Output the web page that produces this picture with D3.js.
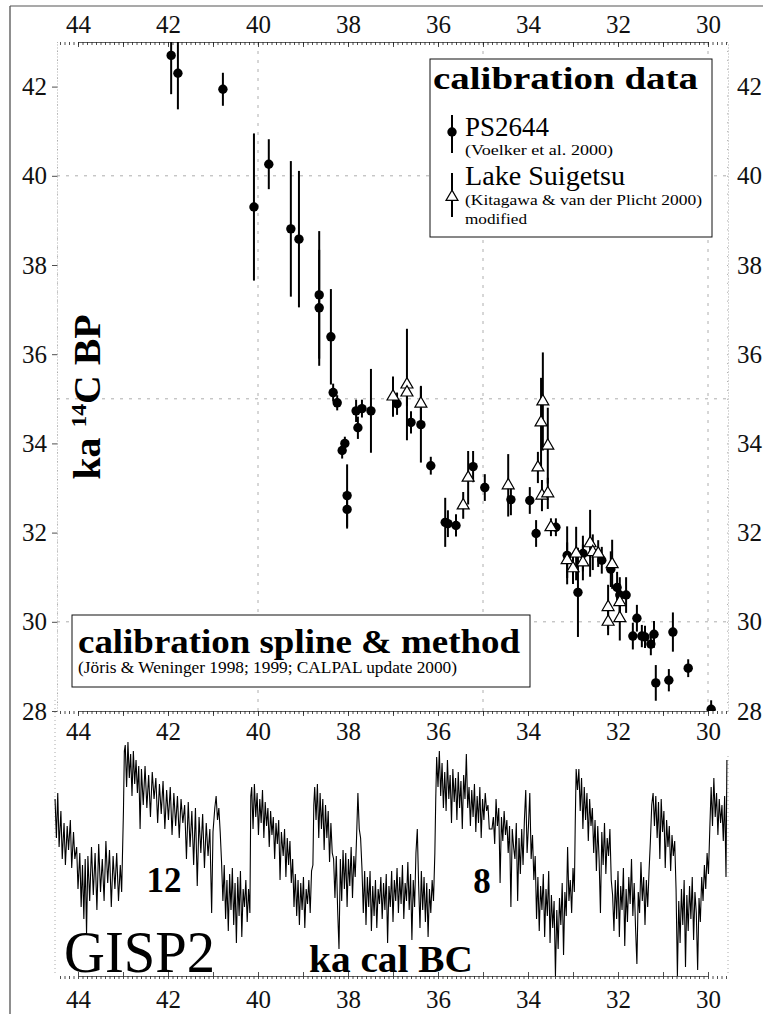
<!DOCTYPE html>
<meta charset="utf-8">
<style>
body { margin: 0; background: #fff; }
svg { font-family: "Liberation Serif", "Times New Roman", serif; }
.lbl text { font-family: "Liberation Serif", "Times New Roman", serif; font-size: 25px; fill: #111; }
.lbl path, .lbl line { display: none; }
.tk path { stroke: #333; stroke-width: 0.8px; }
.tk line { stroke: #222; stroke-width: 0.8px; }
.faint path, .faint line { stroke: #999; stroke-width: 0.8px; stroke-dasharray: 1,2; }
.grid { stroke: #999; stroke-width: 0.8px; stroke-dasharray: 3,6; fill: none; }
.bar { stroke: #000; stroke-width: 2px; }
.gisp { fill: none; stroke: #000; stroke-width: 1.1px; stroke-linejoin: miter; }
</style>
<svg width="763" height="1014" id="chart"></svg>
<script src="https://cdn.jsdelivr.net/npm/d3@7/dist/d3.min.js"></script>
<script>

// tick labels
var xLabels = [44, 42, 40, 38, 36, 34, 32, 30],
    yLabels = [28, 30, 32, 34, 36, 38, 40, 42],
    xGrid = [40, 35, 30],
    yGrid = [30, 35, 40];

// PS2644: cal age (ka), 14C age (ka BP), 1 sigma (ka)
var psAge = [41.93, 41.78, 40.78, 40.09, 39.76, 39.27, 39.09, 38.64, 38.64, 38.38,
             38.33, 38.24, 38.13, 38.07, 38.02, 38.02, 37.82, 37.78, 37.69, 37.49,
             36.91, 36.60, 36.38, 36.16, 35.84, 35.78, 35.60, 35.22, 34.96, 34.38,
             33.96, 33.82, 33.38, 33.13, 32.89, 32.78, 32.36, 32.16, 32.02, 31.96,
             31.82, 31.67, 31.58, 31.47, 31.40, 31.27, 31.20, 31.16, 30.87, 30.78,
             30.44, 29.93];
var psC14 = [42.70, 42.30, 41.94, 39.30, 40.26, 38.81, 38.58, 37.33, 37.04, 36.39,
             35.14, 34.91, 33.84, 34.00, 32.83, 32.52, 34.73, 34.35, 34.78, 34.73,
             34.89, 34.47, 34.42, 33.50, 32.23, 32.20, 32.16, 33.48, 33.01, 32.74,
             32.72, 31.98, 32.12, 31.49, 30.66, 31.53, 31.38, 31.18, 30.77, 30.60,
             30.60, 29.68, 30.08, 29.68, 29.66, 29.50, 29.72, 28.63, 28.69, 29.77,
             28.96, 28.04];
var psErr = [0.87, 0.81, 0.37, 1.65, 0.56, 1.52, 1.53, 1.43, 1.30, 1.07,
             0.20, 0.17, 0.18, 0.15, 0.70, 0.43, 0.25, 0.25, 0.20, 0.94,
             0.25, 0.25, 0.85, 0.20, 0.55, 0.30, 0.25, 0.35, 0.30, 0.35,
             0.30, 0.30, 0.20, 0.65, 1.00, 0.40, 0.30, 0.40, 0.35, 0.40,
             0.40, 0.30, 0.30, 0.25, 0.25, 0.25, 0.30, 0.40, 0.25, 0.44,
             0.20, 0.20];

// Lake Suigetsu (modified)
var lsAge = [37.00, 36.69, 36.69, 36.38, 35.44, 35.33, 34.44, 33.67, 33.71, 33.78,
             33.69, 33.56, 33.56, 33.49, 33.13, 33.00, 32.93, 32.78, 32.62, 32.56,
             32.44, 32.13, 32.22, 32.22, 31.96, 31.96];
var lsC14 = [35.05, 35.32, 35.14, 34.89, 32.61, 33.23, 33.06, 34.94, 34.47, 33.46,
             32.83, 33.95, 32.88, 32.12, 31.38, 31.20, 31.53, 31.33, 31.76, 31.56,
             31.53, 31.29, 30.33, 30.00, 30.44, 30.08];
var lsErr = [0.45, 1.25, 0.30, 0.40, 0.30, 0.60, 0.70, 1.10, 1.00, 0.35,
             0.35, 0.85, 0.35, 0.20, 0.40, 0.35, 0.60, 0.40, 0.75, 0.40,
             0.30, 0.55, 0.50, 0.30, 0.40, 0.50];

// GISP2 d18O (permil) against cal age (ka)
var gisp2 = [
 [44.51,-37.6],[44.48,-38.9],[44.45,-37.4],[44.42,-39.2],[44.38,-38.0],[44.35,-39.6],[44.31,-38.4],[44.28,-39.8],
 [44.24,-38.5],[44.21,-39.3],[44.17,-38.3],[44.14,-39.9],[44.10,-38.7],[44.07,-39.6],[44.03,-39.2],[44.00,-40.6],
 [43.96,-39.4],[43.93,-41.2],[43.90,-39.8],[43.87,-41.6],[43.84,-39.6],[43.81,-42.1],[43.78,-39.5],[43.74,-41.0],
 [43.70,-39.2],[43.66,-40.8],[43.62,-39.4],[43.58,-41.3],[43.54,-39.1],[43.50,-40.7],[43.46,-39.6],[43.42,-41.0],
 [43.38,-39.0],[43.34,-40.4],[43.30,-39.3],[43.26,-41.2],[43.22,-39.5],[43.18,-40.6],[43.14,-39.4],[43.10,-41.0],
 [43.06,-39.8],[43.03,-40.7],[42.99,-38.0],[42.97,-36.0],
 [42.95,-35.8],[42.92,-37.2],[42.89,-35.7],[42.86,-36.9],[42.83,-36.1],[42.80,-37.5],[42.77,-36.0],[42.74,-37.1],
 [42.71,-36.3],[42.68,-37.4],[42.65,-36.5],[42.62,-38.6],[42.59,-36.6],[42.55,-37.8],[42.51,-36.5],[42.47,-37.9],
 [42.43,-36.8],[42.39,-38.2],[42.35,-36.7],[42.31,-37.6],[42.27,-36.9],[42.23,-38.4],[42.19,-37.1],[42.15,-38.1],
 [42.11,-37.0],[42.07,-38.6],[42.03,-37.3],[41.99,-38.3],[41.95,-37.2],[41.91,-38.8],[41.87,-37.4],[41.83,-38.5],
 [41.79,-37.5],[41.75,-38.9],[41.71,-37.6],[41.67,-38.4],[41.63,-37.8],[41.59,-39.6],[41.55,-37.7],[41.51,-39.2],
 [41.47,-38.0],[41.43,-39.8],[41.39,-37.9],[41.35,-40.5],[41.31,-38.2],[41.27,-39.4],[41.23,-38.1],[41.19,-39.9],
 [41.15,-38.4],[41.11,-39.5],[41.07,-38.6],[41.03,-41.4],[41.00,-38.7],[40.96,-37.9],[40.93,-37.5],[40.90,-38.3],
 [40.87,-37.9],[40.84,-38.7],[40.81,-39.7],[40.78,-41.0],[40.75,-39.8],[40.72,-41.6],[40.69,-40.3],[40.66,-42.0],
 [40.63,-40.1],[40.60,-41.3],[40.57,-39.9],[40.54,-41.8],[40.51,-40.4],[40.48,-42.4],[40.45,-40.2],[40.42,-41.5],
 [40.39,-40.0],[40.36,-42.2],[40.33,-40.6],[40.30,-41.2],[40.27,-40.3],[40.24,-41.7],[40.21,-40.6],[40.18,-41.4],
 [40.16,-37.5],[40.14,-37.2],
 [40.11,-38.6],[40.08,-37.1],[40.05,-38.2],[40.02,-37.4],[39.99,-38.8],[39.96,-37.6],[39.93,-38.4],[39.90,-37.3],
 [39.87,-38.9],[39.84,-37.7],[39.81,-38.5],[39.78,-37.9],[39.75,-39.2],[39.72,-38.0],[39.69,-38.8],[39.66,-38.2],
 [39.63,-39.6],[39.60,-38.4],[39.57,-39.1],[39.54,-38.3],[39.51,-40.3],[39.48,-38.7],[39.44,-39.5],[39.41,-38.6],
 [39.38,-40.2],[39.35,-38.9],[39.32,-39.8],[39.29,-39.0],[39.26,-40.4],[39.23,-39.6],[39.20,-41.2],[39.17,-40.1],
 [39.14,-41.5],[39.11,-40.3],[39.08,-41.8],[39.05,-40.4],[39.02,-41.3],[38.99,-40.2],[38.96,-41.9],[38.93,-40.6],
 [38.90,-41.1],[38.87,-40.3],[38.84,-41.4],[38.81,-40.0],[38.78,-39.8],[38.76,-37.8],[38.74,-37.2],
 [38.71,-38.3],[38.68,-37.1],[38.65,-38.9],[38.62,-37.4],[38.59,-38.6],[38.56,-37.6],[38.53,-39.3],[38.50,-37.8],
 [38.47,-38.9],[38.44,-38.0],[38.41,-39.7],[38.38,-38.4],[38.35,-39.4],[38.32,-39.6],[38.29,-40.9],[38.26,-39.5],
 [38.23,-41.3],[38.20,-42.6],[38.17,-39.6],[38.14,-41.0],[38.11,-39.3],[38.08,-40.6],[38.05,-39.4],[38.02,-41.2],
 [37.99,-39.6],[37.96,-40.5],[37.93,-39.2],[37.90,-40.9],[37.87,-39.5],[37.84,-40.2],[37.81,-38.9],[37.78,-37.4],
 [37.75,-38.6],[37.72,-38.9],[37.69,-39.9],[37.66,-41.4],[37.63,-40.0],[37.60,-41.8],[37.57,-40.2],[37.54,-41.2],
 [37.51,-40.0],[37.48,-42.0],[37.45,-40.5],[37.42,-41.5],[37.39,-40.3],[37.36,-41.9],[37.33,-40.6],[37.30,-41.1],
 [37.27,-40.2],[37.24,-41.6],[37.21,-40.4],[37.18,-41.3],[37.15,-40.1],[37.12,-42.4],[37.09,-40.5],[37.06,-41.2],
 [37.03,-40.0],[37.00,-41.7],[36.97,-40.3],[36.94,-41.0],[36.91,-39.9],[36.88,-41.4],[36.85,-40.2],[36.82,-41.1],
 [36.79,-39.8],[36.76,-41.6],[36.73,-40.4],[36.70,-41.0],[36.67,-39.7],[36.64,-41.3],[36.61,-40.1],[36.58,-42.3],
 [36.55,-40.3],[36.52,-41.2],[36.49,-39.4],[36.46,-38.6],[36.43,-40.5],[36.40,-41.9],[36.37,-40.0],[36.34,-41.3],
 [36.31,-40.2],[36.28,-41.7],[36.25,-40.4],[36.22,-42.2],[36.19,-40.6],[36.16,-41.4],[36.13,-40.3],[36.10,-41.0],
 [36.07,-39.4],[36.05,-37.6],[36.03,-36.2],
 [36.00,-37.2],[35.97,-36.0],[35.94,-37.5],[35.91,-36.4],[35.88,-37.9],[35.85,-36.7],[35.82,-38.0],[35.79,-36.3],
 [35.76,-37.6],[35.73,-36.8],[35.70,-38.4],[35.67,-36.6],[35.64,-37.7],[35.61,-36.9],[35.58,-38.3],[35.55,-36.7],
 [35.52,-37.9],[35.49,-37.0],[35.46,-38.6],[35.43,-36.8],[35.40,-37.6],[35.37,-36.1],[35.34,-37.9],[35.31,-37.2],
 [35.28,-38.5],[35.25,-37.3],[35.22,-38.2],[35.19,-37.1],[35.16,-38.7],[35.13,-37.5],[35.10,-38.4],[35.07,-37.2],
 [35.04,-38.9],[35.01,-37.6],[34.98,-38.3],[34.95,-37.4],[34.92,-38.0],[34.89,-37.8],[34.86,-38.6],[34.83,-38.6],
 [34.80,-38.6],[34.77,-38.2],[34.74,-39.1],[34.71,-37.6],[34.68,-38.5],[34.65,-37.9],[34.62,-40.4],[34.59,-38.2],
 [34.56,-39.0],[34.53,-38.0],[34.50,-38.8],[34.47,-38.3],[34.44,-39.4],[34.41,-38.5],[34.38,-41.2],[34.35,-38.6],
 [34.32,-39.2],[34.29,-39.6],[34.26,-38.4],[34.23,-41.0],[34.20,-38.9],[34.17,-40.1],[34.14,-38.6],[34.11,-39.8],
 [34.08,-38.3],[34.05,-37.3],[34.02,-39.4],[33.99,-38.5],[33.96,-37.4],[33.93,-39.6],[33.90,-38.8],[33.87,-40.3],
 [33.84,-39.5],[33.81,-41.6],[33.78,-40.2],[33.75,-42.0],[33.72,-40.5],[33.69,-41.3],[33.66,-40.1],[33.63,-42.2],
 [33.60,-40.6],[33.57,-41.5],[33.54,-40.0],[33.51,-42.4],[33.48,-40.8],[33.45,-41.9],[33.42,-41.0],[33.39,-43.5],
 [33.36,-41.3],[33.33,-42.6],[33.30,-40.9],[33.27,-41.8],[33.24,-40.4],[33.21,-42.8],[33.18,-40.7],[33.15,-41.5],
 [33.12,-39.2],[33.09,-41.0],[33.06,-40.3],[33.03,-41.4],[33.00,-39.9],[32.97,-40.7],[32.95,-38.4],[32.93,-36.6],
 [32.90,-37.3],[32.87,-36.6],[32.84,-38.0],[32.81,-36.9],[32.78,-38.6],[32.75,-37.2],[32.72,-38.3],[32.69,-37.4],
 [32.66,-39.0],[32.63,-37.6],[32.60,-38.5],[32.57,-37.9],[32.54,-39.4],[32.51,-38.3],[32.48,-40.0],[32.45,-38.5],
 [32.42,-39.6],[32.39,-41.4],[32.36,-38.7],[32.33,-39.8],[32.30,-38.4],[32.27,-40.1],[32.24,-38.9],[32.21,-39.5],
 [32.18,-38.6],[32.15,-40.3],[32.12,-40.8],[32.09,-42.0],[32.06,-40.3],[32.03,-41.6],[32.00,-40.0],[31.97,-42.2],
 [31.94,-40.5],[31.91,-41.3],[31.88,-39.9],[31.85,-42.5],[31.82,-40.6],[31.79,-41.7],[31.76,-40.2],[31.73,-41.1],
 [31.70,-39.6],[31.67,-41.5],[31.64,-40.4],[31.61,-41.9],[31.58,-43.1],[31.55,-40.7],[31.52,-41.4],[31.49,-39.7],
 [31.46,-41.0],[31.43,-40.2],[31.40,-41.8],[31.37,-40.3],[31.34,-41.2],[31.31,-40.0],[31.28,-39.0],[31.25,-37.8],
 [31.22,-37.4],[31.19,-38.5],[31.16,-37.5],[31.13,-38.9],[31.10,-37.7],[31.07,-39.6],[31.04,-37.6],[31.01,-38.7],
 [30.98,-38.0],[30.95,-39.9],[30.92,-38.3],[30.89,-39.2],[30.86,-38.5],[30.83,-40.0],[30.80,-38.8],[30.77,-39.5],
 [30.74,-39.0],[30.71,-40.6],[30.68,-43.5],[30.65,-41.0],[30.62,-42.4],[30.59,-40.6],[30.56,-41.8],[30.53,-40.3],
 [30.50,-43.2],[30.47,-40.8],[30.44,-42.0],[30.41,-40.5],[30.38,-41.6],[30.35,-40.2],[30.32,-42.3],[30.29,-40.7],
 [30.26,-41.4],[30.23,-43.3],[30.20,-40.9],[30.17,-41.7],[30.14,-40.2],[30.11,-41.0],[30.08,-39.8],[30.05,-40.6],
 [30.02,-39.4],[29.99,-40.1],[29.96,-38.6],[29.93,-37.2],[29.90,-38.5],[29.87,-36.9],[29.84,-38.2],[29.81,-37.4],
 [29.78,-38.8],[29.75,-37.6],[29.72,-38.4],[29.69,-37.8],[29.66,-39.0],[29.63,-37.5],[29.60,-40.2],[29.58,-36.3]
];

var svg = d3.select("svg#chart");

var left = 57, right = 728, top1 = 42, bot1 = 711, top2 = 736, bot2 = 976;

var x = d3.scaleLinear().domain([44, 30]).range([78, 708]),
    y = d3.scaleLinear().domain([28, 43]).range([bot1, top1]),
    y2 = d3.scaleLinear().domain([-43.5, -35.5]).range([bot2, top2]);

var xMinor = d3.range(296, 445).map(function(d) { return d / 10; }),
    xMajor = d3.range(30, 45),
    yMinor = d3.range(280, 431, 2).map(function(d) { return d / 10; });

// outer frame of the scan
svg.append("line").attr("x1", 10).attr("x2", 10).attr("y1", 6).attr("y2", 1014)
    .attr("stroke", "#444").attr("stroke-width", 1.2);
svg.append("line").attr("x1", 10).attr("x2", 763).attr("y1", 6).attr("y2", 6)
    .attr("stroke", "#555").attr("stroke-width", 1.2);

svg.append("clipPath").attr("id", "clip1")
  .append("rect").attr("x", left).attr("y", top1).attr("width", right - left).attr("height", bot1 - top1);
svg.append("clipPath").attr("id", "clip2")
  .append("rect").attr("x", 54).attr("y", top2 - 4).attr("width", right - 54).attr("height", bot2 - top2 + 6);

// faint grid
var grid = svg.append("g");
grid.selectAll(".gx").data(xGrid).enter().append("line")
    .attr("class", "grid")
    .attr("x1", function(d) { return x(d); }).attr("x2", function(d) { return x(d); })
    .attr("y1", top1).attr("y2", bot1);
grid.selectAll(".gy").data(yGrid).enter().append("line")
    .attr("class", "grid")
    .attr("x1", left).attr("x2", right)
    .attr("y1", function(d) { return y(d); }).attr("y2", function(d) { return y(d); });

// ---- top panel axes
function ticks(axis, vals, size) {
  return axis.tickValues(vals).tickSize(size).tickSizeOuter(0).tickFormat("");
}
function labels(axis, pad) {
  return axis.tickValues(axis.scale() === x ? xLabels : yLabels).tickSize(0).tickPadding(pad).tickFormat(d3.format("d"));
}

svg.append("g").attr("class", "tk").attr("transform", "translate(0," + top1 + ")")
    .call(ticks(d3.axisTop(x), xMinor, -3));
svg.append("g").attr("class", "tk").attr("transform", "translate(0," + top1 + ")")
    .call(ticks(d3.axisTop(x), xMajor, -5)).select(".domain").remove();
svg.append("g").attr("class", "lbl").attr("transform", "translate(0," + top1 + ")")
    .call(labels(d3.axisTop(x), 9));

svg.append("g").attr("class", "tk").attr("transform", "translate(0," + bot1 + ")")
    .call(ticks(d3.axisBottom(x), xMinor, 3));
svg.append("g").attr("class", "tk").attr("transform", "translate(0," + bot1 + ")")
    .call(ticks(d3.axisBottom(x), xMajor, 5)).select(".domain").remove();
svg.append("g").attr("class", "lbl").attr("transform", "translate(0," + bot1 + ")")
    .call(labels(d3.axisBottom(x), 11));

svg.append("g").attr("class", "faint").attr("transform", "translate(" + left + ",0)")
    .call(ticks(d3.axisLeft(y), yMinor, -3));
svg.append("g").attr("class", "tk").attr("transform", "translate(" + left + ",0)")
    .call(ticks(d3.axisLeft(y), yLabels, 5)).select(".domain").remove();
svg.append("g").attr("class", "lbl").attr("transform", "translate(" + left + ",0)")
    .call(labels(d3.axisLeft(y), 10));

svg.append("g").attr("class", "faint").attr("transform", "translate(" + right + ",0)")
    .call(ticks(d3.axisRight(y), yMinor, -3));
svg.append("g").attr("class", "lbl").attr("transform", "translate(" + right + ",0)")
    .call(labels(d3.axisRight(y), 9));

// axis text drawn by d3 carries a sans-serif attribute on its group
svg.selectAll(".lbl").attr("font-family", "Liberation Serif, Times New Roman, serif");

// ---- calibration data
var plot = svg.append("g").attr("clip-path", "url(#clip1)");

var ps = psAge.map(function(a, i) { return {age: a, c14: psC14[i], err: psErr[i]}; }),
    ls = lsAge.map(function(a, i) { return {age: a, c14: lsC14[i], err: lsErr[i]}; });

plot.selectAll(".psbar").data(ps).enter().append("line")
    .attr("class", "bar")
    .attr("x1", function(d) { return x(d.age); }).attr("x2", function(d) { return x(d.age); })
    .attr("y1", function(d) { return y(d.c14 + d.err); })
    .attr("y2", function(d) { return y(d.c14 - d.err); });
plot.selectAll(".lsbar").data(ls).enter().append("line")
    .attr("class", "bar")
    .attr("x1", function(d) { return x(d.age); }).attr("x2", function(d) { return x(d.age); })
    .attr("y1", function(d) { return y(d.c14 + d.err); })
    .attr("y2", function(d) { return y(d.c14 - d.err); });

plot.selectAll(".ps").data(ps).enter().append("circle")
    .attr("cx", function(d) { return x(d.age); })
    .attr("cy", function(d) { return y(d.c14); })
    .attr("r", 4.7).attr("fill", "#000");

var tri = d3.symbol().type(d3.symbolTriangle).size(62);
plot.selectAll(".ls").data(ls).enter().append("path")
    .attr("d", tri)
    .attr("transform", function(d) { return "translate(" + x(d.age) + "," + y(d.c14) + ")"; })
    .attr("fill", "#fff").attr("stroke", "#000").attr("stroke-width", 1.2);

// ---- legend
var lg = svg.append("g");
lg.append("rect").attr("x", 430).attr("y", 59).attr("width", 282).attr("height", 178)
    .attr("fill", "#fff").attr("stroke", "#111").attr("stroke-width", 1);
lg.append("text").attr("x", 433).attr("y", 89).attr("textLength", 265).attr("lengthAdjust", "spacingAndGlyphs")
    .style("font-size", "32px").style("font-weight", "bold").text("calibration data");
lg.append("line").attr("class", "bar").attr("x1", 452).attr("x2", 452).attr("y1", 115).attr("y2", 153);
lg.append("circle").attr("cx", 452).attr("cy", 132).attr("r", 4.7);
lg.append("text").attr("x", 465).attr("y", 136).attr("textLength", 84).attr("lengthAdjust", "spacingAndGlyphs")
    .style("font-size", "27px").text("PS2644");
lg.append("text").attr("x", 465).attr("y", 155).attr("textLength", 148).attr("lengthAdjust", "spacingAndGlyphs")
    .style("font-size", "15px").text("(Voelker et al. 2000)");
lg.append("line").attr("class", "bar").attr("x1", 452).attr("x2", 452).attr("y1", 173).attr("y2", 217);
lg.append("path").attr("d", tri).attr("transform", "translate(452,197)")
    .attr("fill", "#fff").attr("stroke", "#000").attr("stroke-width", 1.2);
lg.append("text").attr("x", 465).attr("y", 185).attr("textLength", 160).attr("lengthAdjust", "spacingAndGlyphs")
    .style("font-size", "28px").text("Lake Suigetsu");
lg.append("text").attr("x", 465).attr("y", 205).attr("textLength", 237).attr("lengthAdjust", "spacingAndGlyphs")
    .style("font-size", "15px").text("(Kitagawa & van der Plicht 2000)");
lg.append("text").attr("x", 465).attr("y", 224).attr("textLength", 62).attr("lengthAdjust", "spacingAndGlyphs")
    .style("font-size", "15px").text("modified");

// ---- method box
var mb = svg.append("g");
mb.append("rect").attr("x", 72).attr("y", 615).attr("width", 458).attr("height", 72)
    .attr("fill", "#fff").attr("stroke", "#111").attr("stroke-width", 1);
mb.append("text").attr("x", 78).attr("y", 653).attr("textLength", 442).attr("lengthAdjust", "spacingAndGlyphs")
    .style("font-size", "33px").style("font-weight", "bold").text("calibration spline & method");
mb.append("text").attr("x", 78).attr("y", 673).attr("textLength", 379).attr("lengthAdjust", "spacingAndGlyphs")
    .style("font-size", "16px").text("(Jöris & Weninger 1998; 1999; CALPAL update 2000)");

// y title
var yt = svg.append("text").attr("transform", "translate(100,397) rotate(-90)")
    .attr("text-anchor", "middle").attr("textLength", 165).attr("lengthAdjust", "spacingAndGlyphs")
    .style("font-size", "37px").style("font-weight", "bold");
yt.append("tspan").text("ka ");
yt.append("tspan").attr("dy", -14).style("font-size", "22px").text("14");
yt.append("tspan").attr("dy", 14).text("C BP");

// ---- GISP2 panel
svg.append("line").attr("x1", 55).attr("x2", 55).attr("y1", 700).attr("y2", bot2)
    .attr("stroke", "#aaa").attr("stroke-dasharray", "1,3");
svg.append("line").attr("x1", right).attr("x2", right).attr("y1", top2 + 20).attr("y2", bot2)
    .attr("stroke", "#aaa").attr("stroke-dasharray", "1,3");

svg.append("g").attr("class", "tk").attr("transform", "translate(0," + bot2 + ")")
    .call(ticks(d3.axisBottom(x), xMinor, 3));
svg.append("g").attr("class", "tk").attr("transform", "translate(0," + bot2 + ")")
    .call(ticks(d3.axisBottom(x), xMajor, -4)).select(".domain").remove();
svg.append("g").attr("class", "lbl").attr("transform", "translate(0," + bot2 + ")")
    .call(labels(d3.axisBottom(x), 14))
    .attr("font-family", "Liberation Serif, Times New Roman, serif");

var line = d3.line()
    .x(function(d) { return x(d[0]); })
    .y(function(d) { return y2(d[1]); });

svg.append("path").attr("class", "gisp").attr("clip-path", "url(#clip2)")
    .attr("d", line(gisp2));

svg.append("text").attr("x", 164).attr("y", 892).attr("text-anchor", "middle")
    .style("font-size", "35px").style("font-weight", "bold").text("12");
svg.append("text").attr("x", 482).attr("y", 893).attr("text-anchor", "middle")
    .style("font-size", "35px").style("font-weight", "bold").text("8");
svg.append("text").attr("x", 64).attr("y", 972).attr("textLength", 151).attr("lengthAdjust", "spacingAndGlyphs")
    .style("font-size", "60px").text("GISP2");
svg.append("text").attr("x", 309).attr("y", 972).attr("textLength", 164).attr("lengthAdjust", "spacingAndGlyphs")
    .style("font-size", "38px").style("font-weight", "bold").text("ka cal BC");

</script>
